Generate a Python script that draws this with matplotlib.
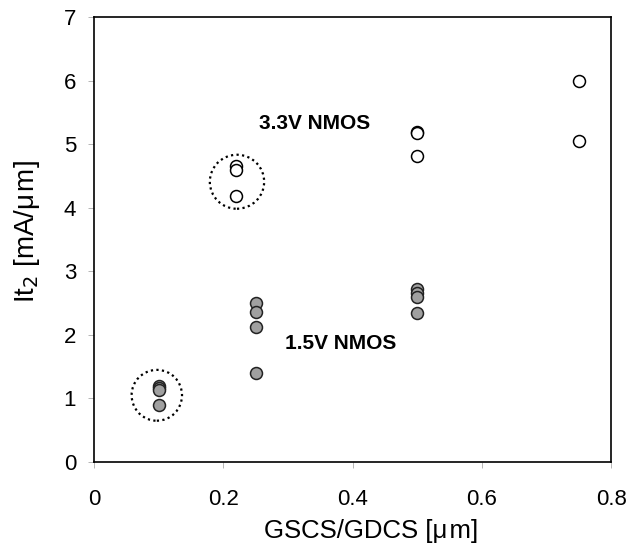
import matplotlib
matplotlib.use("Agg")
import matplotlib.pyplot as plt
from matplotlib.patches import Ellipse

plt.rcParams['font.family'] = ['Liberation Sans', 'DejaVu Sans']

# 3.3V NMOS devices (open markers)
x_33 = [0.22, 0.22, 0.22, 0.5, 0.5, 0.5, 0.75, 0.75]
y_33 = [4.66, 4.59, 4.19, 5.20, 5.17, 4.81, 6.00, 5.05]

# 1.5V NMOS devices (filled markers)
x_15 = [0.1, 0.1, 0.1, 0.1, 0.25, 0.25, 0.25, 0.25, 0.5, 0.5, 0.5, 0.5]
y_15 = [1.20, 1.16, 1.13, 0.89, 2.50, 2.36, 2.13, 1.40, 2.72, 2.66, 2.59, 2.34]

fig = plt.figure(figsize=(6.36, 5.52), dpi=100)
ax = fig.add_axes([0.148, 0.163, 0.813, 0.806])

ax.plot(x_33, y_33, 'o', ms=8.6, mfc='white', mec='black', mew=1.1, ls='none')
ax.plot(x_15, y_15, 'o', ms=8.6, mfc='#a0a0a0', mec='#222222', mew=1.1, ls='none')

# dotted rings around the selected groups
ax.add_patch(Ellipse((0.221, 4.41), 0.084, 0.85, fill=False, ls=(0, (1, 1.5)), lw=1.6, color='black'))
ax.add_patch(Ellipse((0.097, 1.05), 0.078, 0.80, fill=False, ls=(0, (1, 1.5)), lw=1.6, color='black'))

ax.text(0.341, 5.32, '3.3V NMOS', fontsize=15, fontweight='bold', ha='center', va='center')
ax.text(0.381, 1.86, '1.5V NMOS', fontsize=15, fontweight='bold', ha='center', va='center')

ax.set_xlim(0, 0.8)
ax.set_ylim(0, 7)
ax.set_xticks([0, 0.2, 0.4, 0.6, 0.8])
ax.set_xticklabels(['0', '0.2', '0.4', '0.6', '0.8'])
ax.set_yticks(range(8))
ax.tick_params(direction='out', length=4, width=0.6, color='#aaaaaa', labelsize=16)
ax.tick_params(axis='x', pad=15.5)
ax.tick_params(axis='y', pad=9)
for s in ax.spines.values():
    s.set_linewidth(1.2)

ax.set_xlabel('GSCS/GDCS [\u03bc\u200am]', fontsize=18.5)
ax.set_ylabel('It$_2$ [mA/\u03bc\u200am]', fontsize=20)
ax.xaxis.set_label_coords(0.536, -0.128)
ax.yaxis.set_label_coords(-0.10, 0.519)

fig.savefig('out.png', dpi=100)
